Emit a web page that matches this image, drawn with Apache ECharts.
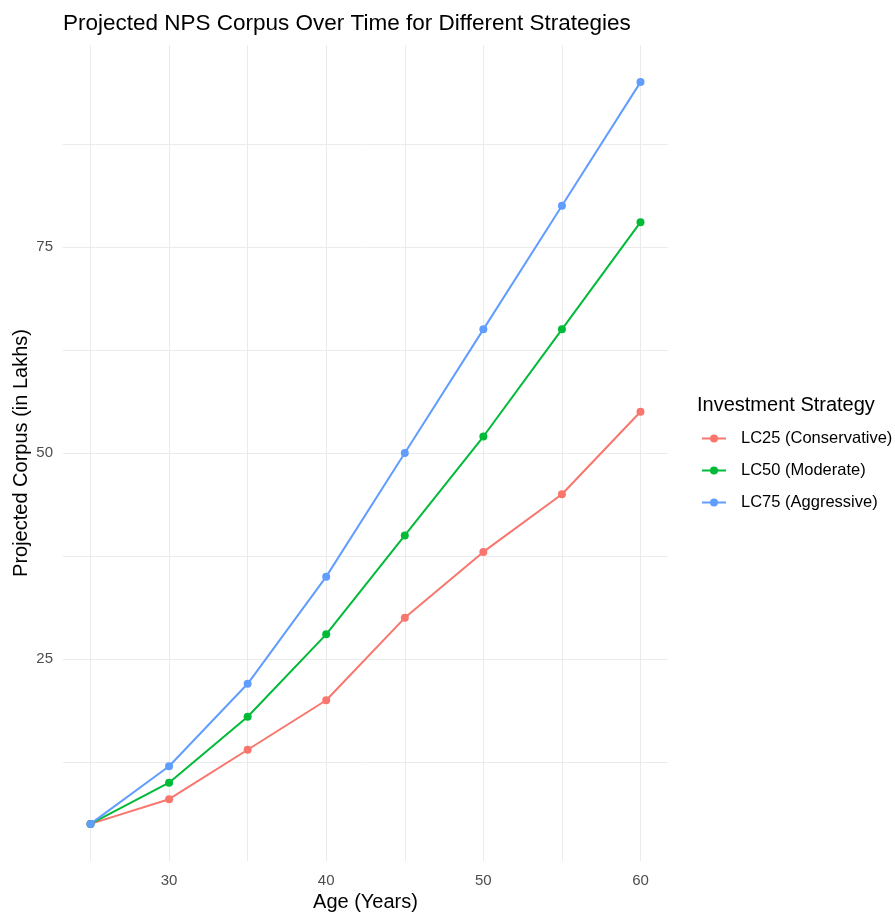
<!DOCTYPE html>
<html>
<head>
<meta charset="utf-8">
<script src="https://cdn.jsdelivr.net/npm/echarts@6/dist/echarts.min.js"></script>
<style>
  html, body { margin: 0; padding: 0; background: #fff; }
  #chart { width: 895px; height: 913px; }
</style>
</head>
<body>
<div id="chart"></div>
<script>
const ages = [25, 30, 35, 40, 45, 50, 55, 60];
const lc25 = [5, 8, 14, 20, 30, 38, 45, 55];
const lc50 = [5, 10, 18, 28, 40, 52, 65, 78];
const lc75 = [5, 12, 22, 35, 50, 65, 80, 95];
const seriesNames = ['LC25 (Conservative)', 'LC50 (Moderate)', 'LC75 (Aggressive)'];
const colors = ['#F8766D', '#00BA38', '#619CFF'];
const xMajor = [30, 40, 50, 60];
const xMinor = [25, 35, 45, 55];
const yMajor = [25, 50, 75];
const yMinor = [12.5, 37.5, 62.5, 87.5];

const font = 'Liberation Sans, Arial, sans-serif';
const chart = echarts.init(document.getElementById('chart'));

const pairs = vals => ages.map((a, i) => [a, vals[i]]);

// ggplot-like axis: major lines + labels, minor lines on a twin axis
function xAxis(ticks, withLabels) {
  return {
    type: 'value', position: 'bottom', min: 23.25, max: 61.75,
    axisLine: { show: false },
    axisTick: { show: false, customValues: ticks },
    axisLabel: withLabels
      ? { customValues: ticks, color: '#4d4d4d', fontSize: 15, fontFamily: font, margin: 12 }
      : { show: false },
    splitLine: { show: true, lineStyle: { color: '#ebebeb', width: 1 } },
    name: withLabels ? 'Age (Years)' : '',
    nameLocation: 'middle', nameGap: 31, nameMoveOverlap: false,
    nameTextStyle: { color: '#000', fontSize: 20, fontFamily: font }
  };
}
function yAxis(ticks, withLabels) {
  return {
    type: 'value', position: 'left', min: 0.5, max: 99.5,
    axisLine: { show: false },
    axisTick: { show: false, customValues: ticks },
    axisLabel: withLabels
      ? { customValues: ticks, color: '#4d4d4d', fontSize: 15, fontFamily: font, margin: 10 }
      : { show: false },
    splitLine: { show: true, lineStyle: { color: '#ebebeb', width: 1 } },
    name: withLabels ? 'Projected Corpus (in Lakhs)' : '',
    nameLocation: 'middle', nameGap: 32, nameRotate: 90, nameMoveOverlap: false,
    nameTextStyle: { color: '#000', fontSize: 20, fontFamily: font }
  };
}

chart.setOption({
  animation: false,
  title: [
    {
      text: 'Projected NPS Corpus Over Time for Different Strategies',
      left: 58, top: 7,
      textStyle: { fontSize: 22.5, fontWeight: 'normal', color: '#000', fontFamily: font }
    },
    {
      text: 'Investment Strategy',
      left: 692, top: 390,
      textStyle: { fontSize: 20, fontWeight: 'normal', color: '#000', fontFamily: font }
    }
  ],
  grid: { left: 63, right: 227, top: 45, bottom: 52, outerBoundsMode: 'none' },
  xAxis: [xAxis(xMinor, false), xAxis(xMajor, true)],
  yAxis: [yAxis(yMinor, false), yAxis(yMajor, true)],
  legend: {
    orient: 'vertical', left: 696, top: 425,
    itemWidth: 24, itemHeight: 10, itemGap: 15,
    data: seriesNames,
    textStyle: { fontSize: 16.5, color: '#000', fontFamily: font, padding: [0, 0, 0, 10] }
  },
  series: [lc25, lc50, lc75].map((vals, i) => ({
    name: seriesNames[i],
    type: 'line',
    xAxisIndex: 1, yAxisIndex: 1,
    data: pairs(vals),
    symbol: 'circle', symbolSize: 8,
    itemStyle: { color: colors[i] },
    lineStyle: { color: colors[i], width: 2 }
  }))
});
</script>
</body>
</html>
